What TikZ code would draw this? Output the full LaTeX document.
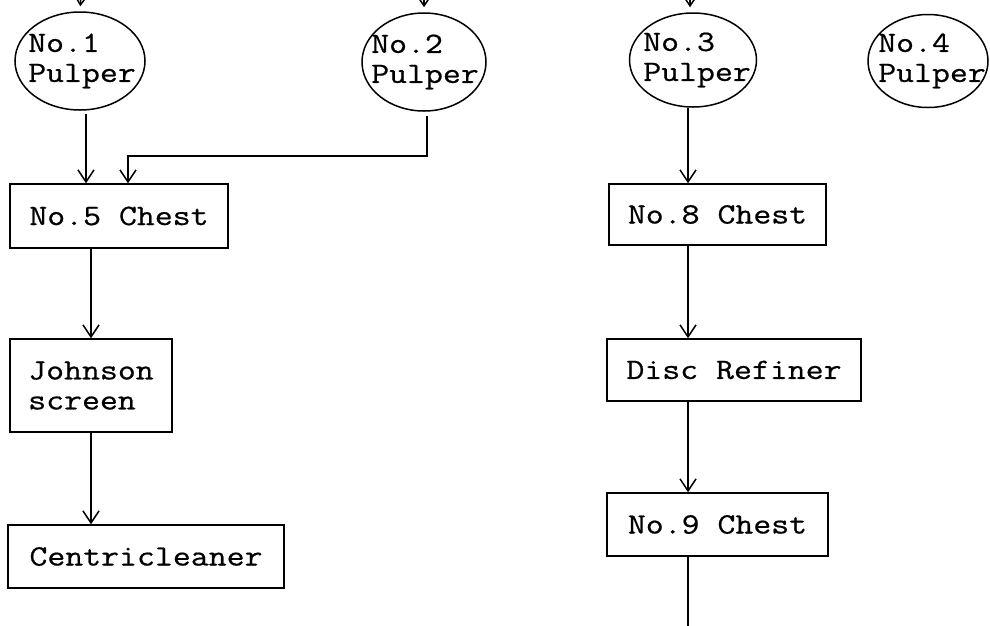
\documentclass[tikz,border=0pt]{standalone}
\usepackage{fontspec}
\newfontfamily\typer[FakeStretch=1.18,FakeBold=0.6]{Latin Modern Mono}
\usetikzlibrary{shapes.geometric,arrows.meta}

\begin{document}
\begin{tikzpicture}[x=1pt,y=-1pt,
  line width=1.5pt,
  every node/.style={font=\typer\fontsize{29.5}{30}\selectfont},
  unit/.style={draw, rectangle, inner sep=0pt, align=left},
  pulper/.style={draw, ellipse, inner sep=0pt},
  ptext/.style={align=left, inner sep=0pt},
  flow/.style={-{Straight Barb[length=12pt,width=16pt,line width=1.5pt]}},
]
\useasboundingbox (0,0) rectangle (990,625);

% pulpers
\node[pulper, minimum width=130, minimum height=98] (p1) at (80,61) {};
\node[ptext] (p1t) at (82,61) {No.1\\Pulper};
\node[pulper, minimum width=124, minimum height=98] (p2) at (424,62) {};
\node[ptext] (p2t) at (425,62) {No.2\\Pulper};
\node[pulper, minimum width=127, minimum height=94] (p3) at (693,60) {};
\node[ptext] (p3t) at (697,60) {No.3\\Pulper};
\node[pulper, minimum width=120, minimum height=93] (p4) at (928,61) {};
\node[ptext] (p4t) at (932,61) {No.4\\Pulper};

% left line
\node[unit, minimum width=218, minimum height=64] (c5) at (119,216) {No.5 Chest};
\node[unit, minimum width=162, minimum height=93] (js) at (91,385.5) {Johnson\\screen};
\node[unit, minimum width=276, minimum height=63] (cc) at (146,556.5) {Centricleaner};

% right line
\node[unit, minimum width=217, minimum height=61] (c8) at (717.5,214.5) {No.8 Chest};
\node[unit, minimum width=254, minimum height=62] (dr) at (734,370) {Disc Refiner};
\node[unit, minimum width=221, minimum height=63] (c9) at (717.5,524.5) {No.9 Chest};

% feeds from above
\coordinate (in1) at (82,-20);
\coordinate (in2) at (424,-20);
\coordinate (in3) at (690,-20);
\draw[flow, shorten >=5pt] (in1) -- (p1.north);
\draw[flow, shorten >=5pt] (in2) -- (p2.north);
\draw[flow, shorten >=5pt] (in3) -- (in3 |- p3.north);

% column positions and junctions
\coordinate (colL) at (86,0);
\coordinate (colP2) at (427,0);
\coordinate (j2) at (128,156);
\coordinate (colR) at (688,0);
\coordinate (out) at (688,640);

\draw[flow] (colL |- p1.south) ++(0,3) -- (colL |- c5.north);
\draw[flow] (colP2 |- p2.south) ++(0,4) |- (j2) -- (j2 |- c5.north);
\draw[flow] (js.north |- c5.south) -- (js.north);
\draw[flow] (js.south) -- (js.south |- cc.north);

\draw[flow] (colR |- p3.south) -- (colR |- c8.north);
\draw[flow] (colR |- c8.south) -- (colR |- dr.north);
\draw[flow] (colR |- dr.south) -- (colR |- c9.north);
\draw (colR |- c9.south) -- (out);
\end{tikzpicture}
\end{document}
